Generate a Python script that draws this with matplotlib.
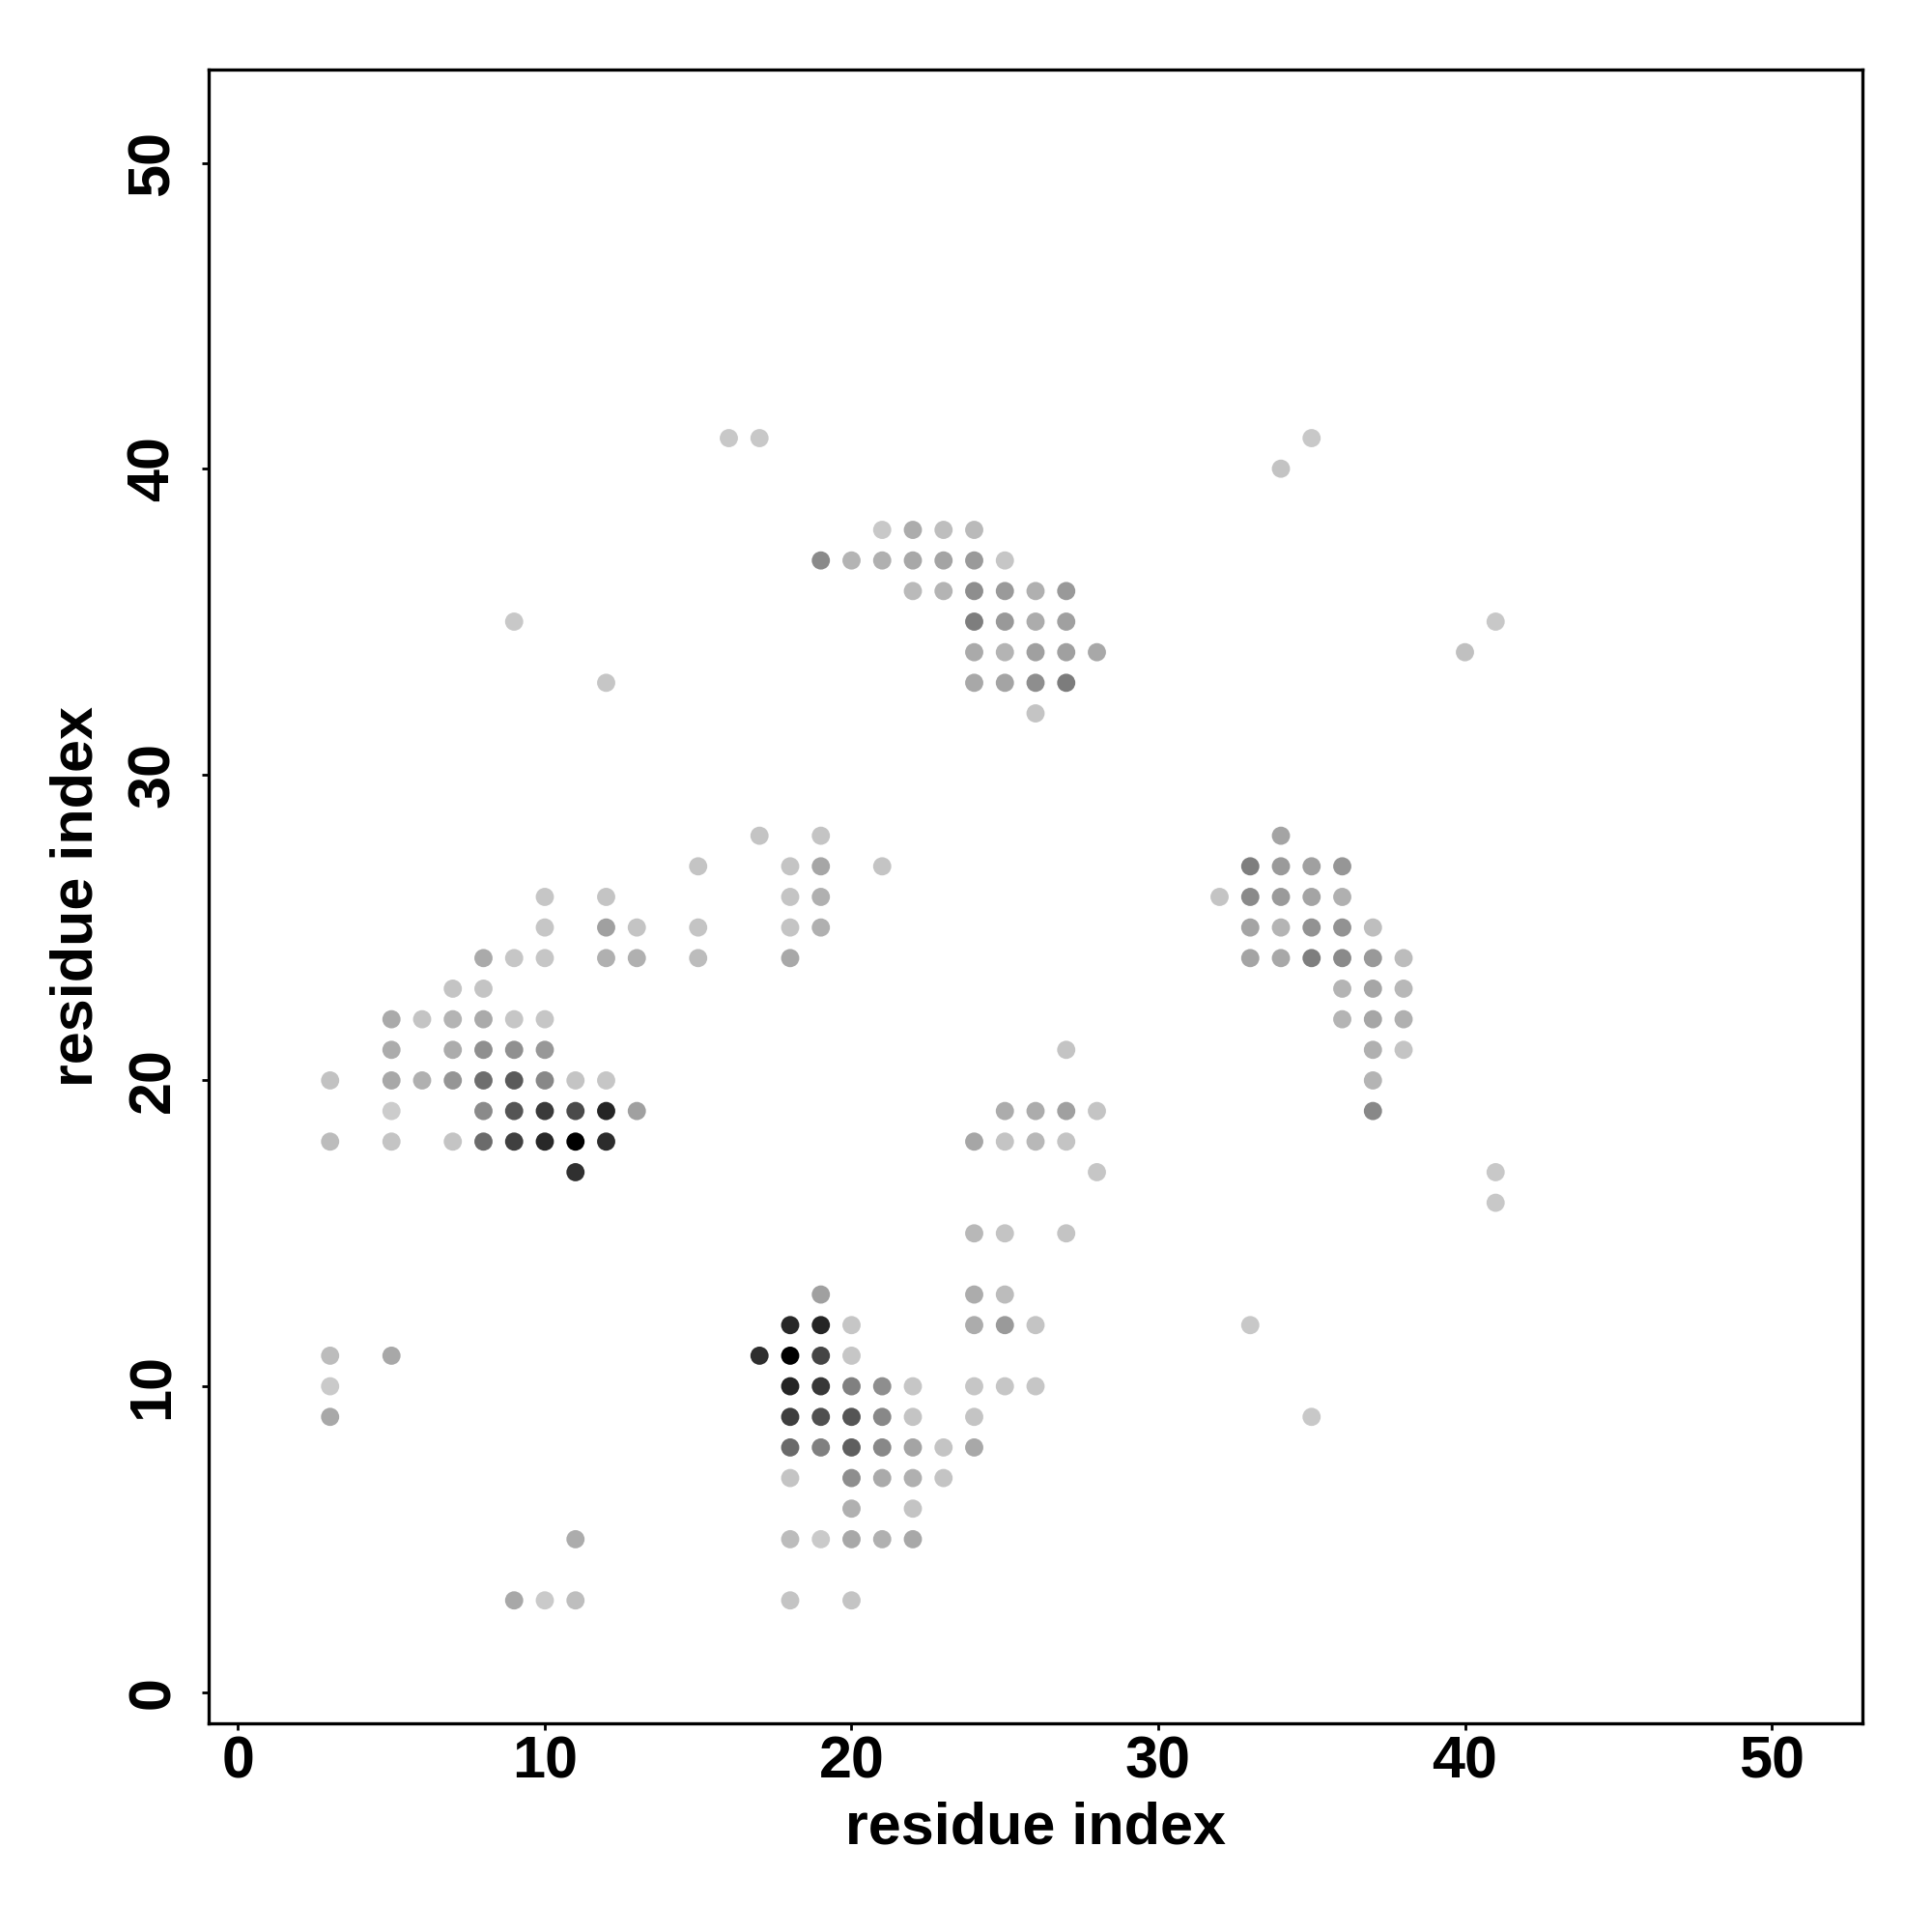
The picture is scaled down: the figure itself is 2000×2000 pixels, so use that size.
import numpy as np
import matplotlib
matplotlib.use("Agg")
import matplotlib.pyplot as plt

plt.rcParams['font.family'] = ['Liberation Sans', 'DejaVu Sans']
plt.rcParams['font.weight'] = 'bold'

# contact map: residue i, residue j, grey level of the dot (0 black .. 255 white)
res_i = [16, 17, 35,
         34,
         21, 22, 23, 24,
         19, 20, 21, 22, 23, 24, 25,
         22, 23, 24, 25, 26, 27,
         9, 24, 25, 26, 27, 41,
         24, 25, 26, 27, 28, 40,
         12, 24, 25, 26, 27,
         26,
         17, 19, 34,
         15, 18, 19, 21, 33, 34, 35, 36,
         10, 12, 18, 19, 32, 33, 34, 35, 36,
         10, 12, 13, 15, 18, 19, 33, 34, 35, 36, 37,
         8, 9, 10, 12, 13, 15, 18, 33, 34, 35, 36, 37, 38,
         7, 8, 36, 37, 38,
         5, 6, 7, 8, 9, 10, 36, 37, 38,
         5, 7, 8, 9, 10, 27, 37, 38,
         3, 5, 6, 7, 8, 9, 10, 11, 12, 37,
         5, 8, 9, 10, 11, 12, 13, 25, 26, 27, 28, 37,
         3, 5, 7, 8, 9, 10, 11, 12, 24, 25, 26, 27,
         11, 28, 41,
         41,
         24, 25, 27,
         19, 24, 25,
         18, 19, 20, 24, 25, 26, 33,
         3, 5, 17, 18, 19, 20,
         3, 18, 19, 20, 21, 22, 24, 25, 26,
         3, 18, 19, 20, 21, 22, 24, 35,
         18, 19, 20, 21, 22, 23, 24,
         18, 20, 21, 22, 23,
         20, 22,
         11, 18, 19, 20, 21, 22,
         9, 10, 11, 18, 20]

res_j = [41] * 3 + [40] + [38] * 4 + [37] * 7 + [36] * 6 + [35] * 6 + [34] * 6 \
      + [33] * 5 + [32] + [28] * 3 + [27] * 8 + [26] * 9 + [25] * 11 + [24] * 13 \
      + [23] * 5 + [22] * 9 + [21] * 8 + [20] * 10 + [19] * 12 + [18] * 12 \
      + [17] * 3 + [16] + [15] * 3 + [13] * 3 + [12] * 7 + [11] * 6 + [10] * 9 \
      + [9] * 8 + [8] * 7 + [7] * 5 + [6] * 2 + [5] * 6 + [3] * 5

grey = [200, 200, 200,
        195,
        200, 172, 190, 186,
        138, 180, 176, 168, 164, 154, 198,
        186, 180, 142, 154, 176, 153,
        200, 126, 153, 172, 160, 200,
        170, 180, 160, 160, 168, 192,
        198, 168, 164, 142, 124,
        196,
        196, 196, 164,
        196, 196, 166, 196, 126, 154, 160, 150,
        198, 196, 196, 176, 196, 138, 154, 164, 176,
        198, 160, 196, 196, 196, 176, 164, 180, 146, 146, 190,
        170, 198, 198, 176, 176, 188, 168, 164, 168, 126, 138, 153, 188,
        196, 196, 180, 166, 184,
        170, 196, 180, 170, 198, 198, 180, 166, 176,
        172, 172, 143, 144, 152, 196, 176, 196,
        194, 168, 176, 149, 110, 90, 136, 196, 198, 180,
        204, 138, 85, 58, 74, 37, 160, 172, 172, 160, 196, 136,
        188, 196, 196, 107, 64, 40, 0, 44, 166, 196, 184, 196,
        48, 198, 200,
        200,
        184, 196, 196,
        160, 172, 188,
        40, 37, 198, 172, 154, 196, 200,
        188, 168, 46, 0, 69, 198,
        202, 37, 56, 128, 142, 198, 198, 198, 198,
        168, 62, 80, 85, 136, 196, 196, 200,
        106, 128, 95, 136, 164, 196, 168,
        196, 142, 170, 176, 196,
        176, 196,
        172, 188, 202, 168, 176, 168,
        168, 202, 190, 196, 196]

ticks = [0, 10, 20, 30, 40, 50]

colors = [(g / 255, g / 255, g / 255) for g in grey]

fig = plt.figure(figsize=(10, 10), dpi=200)
ax = fig.add_axes([0.108, 0.108, 0.856, 0.856])
ax.scatter(res_i, res_j, c=colors, s=46, linewidths=0, zorder=3)

ax.set_xlim(-0.96, 52.96)
ax.set_ylim(-1.02, 53.05)
ax.set_xticks(ticks)
ax.set_yticks(ticks)
ax.tick_params(direction='out', length=2.6, width=1.0, pad=2, labelsize=22)
ax.tick_params(axis='y', pad=7.5)
for lab in ax.get_yticklabels():
    lab.set_rotation(90)
    lab.set_va('center')
for sp in ax.spines.values():
    sp.set_linewidth(1.2)

ax.set_xlabel('residue index', fontsize=22, fontweight='bold', labelpad=4)
ax.set_ylabel('residue index', fontsize=22, fontweight='bold', labelpad=8)

fig.savefig('out.png', dpi=200)
